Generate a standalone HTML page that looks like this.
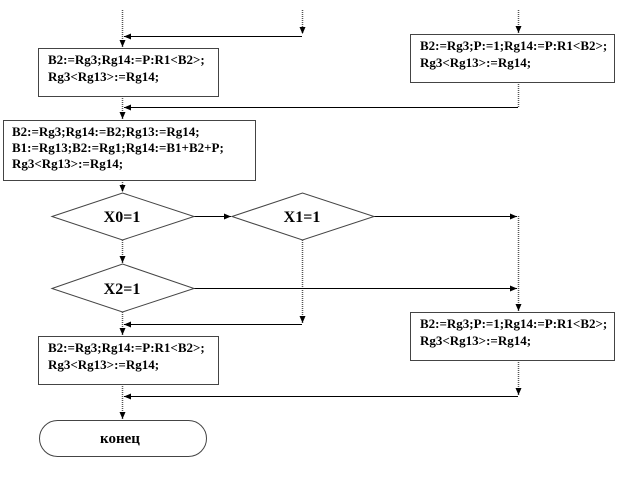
<!DOCTYPE html>
<html><head><meta charset="utf-8"><style>
body{margin:0;background:#fff}
svg text{font-family:"Liberation Serif",serif;font-weight:bold;font-size:13px;fill:#000}
</style></head><body>
<svg width="618" height="480" viewBox="0 0 618 480" xmlns="http://www.w3.org/2000/svg">
<defs>
<marker id="a" markerWidth="8" markerHeight="8" refX="7" refY="4" orient="auto" markerUnits="userSpaceOnUse"><path d="M0,1 L7,4 L0,7 Z" fill="#000"/></marker>
</defs>
<g stroke="#555" stroke-width="1.5" stroke-dasharray="1,1" fill="none">
<line x1="122.5" y1="10" x2="122.5" y2="47" marker-end="url(#a)"/>
<line x1="302.5" y1="10" x2="302.5" y2="34" marker-end="url(#a)"/>
<line x1="518.5" y1="10" x2="518.5" y2="33" marker-end="url(#a)"/>
<line x1="122.5" y1="96" x2="122.5" y2="119" marker-end="url(#a)"/>
<line x1="518.5" y1="82" x2="518.5" y2="107"/>
<line x1="122.5" y1="180" x2="122.5" y2="192" marker-end="url(#a)"/>
<line x1="122.5" y1="240" x2="122.5" y2="263" marker-end="url(#a)"/>
<line x1="302.5" y1="240" x2="302.5" y2="323" marker-end="url(#a)"/>
<line x1="518.5" y1="216" x2="518.5" y2="311" marker-end="url(#a)"/>
<line x1="122.5" y1="312" x2="122.5" y2="335" marker-end="url(#a)"/>
<line x1="518.5" y1="360" x2="518.5" y2="395" marker-end="url(#a)"/>
<line x1="122.5" y1="384" x2="122.5" y2="419" marker-end="url(#a)"/>
</g>
<g stroke="#000" stroke-width="1" fill="none">
<line x1="302" y1="36.5" x2="124" y2="36.5" marker-end="url(#a)"/>
<line x1="518" y1="107.5" x2="124" y2="107.5" marker-end="url(#a)"/>
<line x1="194" y1="216.5" x2="231" y2="216.5" marker-end="url(#a)"/>
<line x1="374" y1="216.5" x2="517" y2="216.5" marker-end="url(#a)"/>
<line x1="194" y1="288.5" x2="517" y2="288.5" marker-end="url(#a)"/>
<line x1="302" y1="324.5" x2="124" y2="324.5" marker-end="url(#a)"/>
<line x1="518" y1="396.5" x2="124" y2="396.5" marker-end="url(#a)"/>
</g>
<g stroke="#444" stroke-width="1" fill="#fff">
<rect x="38.5" y="48.5" width="180" height="48"/>
<rect x="410.5" y="34.5" width="204" height="48"/>
<rect x="3.5" y="120.5" width="252" height="60"/>
<rect x="38.5" y="336.5" width="180" height="48"/>
<rect x="410.5" y="312.5" width="204" height="48"/>
<polygon points="52,216.5 122.5,193 194,216.5 122.5,240"/>
<polygon points="232,216.5 302.5,193 374,216.5 302.5,240"/>
<polygon points="52,288.5 122.5,264 194,288.5 122.5,312"/>
<rect x="39.5" y="420.5" width="167" height="36" rx="18" ry="18"/>
</g>
<text x="48" y="64">B2:=Rg3;Rg14:=P:R1&lt;B2&gt;;</text>
<text x="48" y="81">Rg3&lt;Rg13&gt;:=Rg14;</text>
<text x="420" y="50">B2:=Rg3;P:=1;Rg14:=P:R1&lt;B2&gt;;</text>
<text x="420" y="67">Rg3&lt;Rg13&gt;:=Rg14;</text>
<text x="12" y="136">B2:=Rg3;Rg14:=B2;Rg13:=Rg14;</text>
<text x="12" y="152">B1:=Rg13;B2:=Rg1;Rg14:=B1+B2+P;</text>
<text x="12" y="168">Rg3&lt;Rg13&gt;:=Rg14;</text>
<text x="122" y="222" text-anchor="middle" style="font-size:16px">X0=1</text>
<text x="302" y="222" text-anchor="middle" style="font-size:16px">X1=1</text>
<text x="122" y="294" text-anchor="middle" style="font-size:16px">X2=1</text>
<text x="48" y="352">B2:=Rg3;Rg14:=P:R1&lt;B2&gt;;</text>
<text x="48" y="369">Rg3&lt;Rg13&gt;:=Rg14;</text>
<text x="420" y="328">B2:=Rg3;P:=1;Rg14:=P:R1&lt;B2&gt;;</text>
<text x="420" y="345">Rg3&lt;Rg13&gt;:=Rg14;</text>
<text x="120" y="443" text-anchor="middle" style="font-size:15px">конец</text>
</svg>
</body></html>
